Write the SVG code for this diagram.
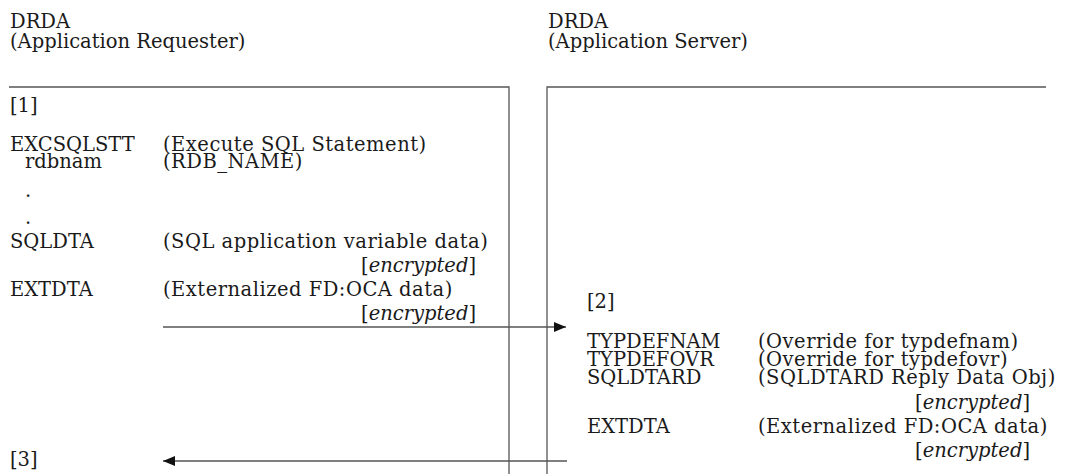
<svg xmlns="http://www.w3.org/2000/svg" width="1068" height="474" viewBox="0 0 1068 474">
<style>
text{font-family:"DejaVu Serif","Liberation Serif",serif;font-size:19.5px;fill:#1a1a1a}
.d{letter-spacing:0.5px}
.e{text-anchor:end}
.i{font-style:italic}
.ln{stroke:#555;stroke-width:1.3;fill:none}
</style>
<defs>
<marker id="ah" markerWidth="12" markerHeight="10" refX="12" refY="5" orient="auto" markerUnits="userSpaceOnUse">
<path d="M0,0 L12,5 L0,10 Z" fill="#111"/>
</marker>
</defs>
<g id="requester">
<text x="10" y="28">DRDA</text>
<text x="10" y="48">(Application Requester)</text>
<path class="ln" d="M9,87 H509 V474"/>
<text x="10" y="112">[1]</text>
<text x="10" y="151">EXCSQLSTT</text>
<text class="d" x="163" y="151">(Execute SQL Statement)</text>
<text x="25" y="168">rdbnam</text>
<text class="d" x="163" y="168">(RDB_NAME)</text>
<text x="25" y="197">.</text>
<text x="25" y="224">.</text>
<text x="10" y="248">SQLDTA</text>
<text class="d" x="163" y="248">(SQL application variable data)</text>
<text class="e" x="476" y="272">[<tspan class="i">encrypted</tspan>]</text>
<text x="10" y="296">EXTDTA</text>
<text class="d" x="163" y="296">(Externalized FD:OCA data)</text>
<text class="e" x="476" y="320">[<tspan class="i">encrypted</tspan>]</text>
<text x="10" y="466">[3]</text>
</g>
<g id="server">
<text x="548" y="28">DRDA</text>
<text x="548" y="48">(Application Server)</text>
<path class="ln" d="M547,474 V87 H1046"/>
<text x="587" y="308">[2]</text>
<text x="587" y="348">TYPDEFNAM</text>
<text class="d" x="758" y="348">(Override for typdefnam)</text>
<text x="587" y="366">TYPDEFOVR</text>
<text class="d" x="758" y="366">(Override for typdefovr)</text>
<text x="587" y="384">SQLDTARD</text>
<text class="d" x="758" y="384">(SQLDTARD Reply Data Obj)</text>
<text class="e" x="1030" y="409">[<tspan class="i">encrypted</tspan>]</text>
<text x="587" y="433">EXTDTA</text>
<text class="d" x="758" y="433">(Externalized FD:OCA data)</text>
<text class="e" x="1030" y="457">[<tspan class="i">encrypted</tspan>]</text>
</g>
<g id="connectors">
<line class="ln" x1="163" y1="327" x2="566" y2="327" marker-end="url(#ah)"/>
<line class="ln" x1="567" y1="461" x2="163" y2="461" marker-end="url(#ah)"/>
</g>
</svg>
